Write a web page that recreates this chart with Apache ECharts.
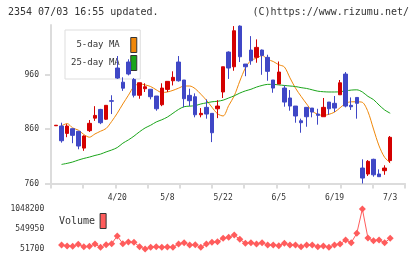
<!DOCTYPE html>
<html>
<head>
<meta charset="UTF-8">
<title>2354</title>
<script src="https://cdn.jsdelivr.net/npm/echarts@6/dist/echarts.min.js"></script>
<style>
	html, body { margin: 0; padding: 0; background: #fff; }
	#main { width: 420px; height: 259px; }
</style>
</head>
<body>
<div id="main"></div>
<script>
var dates = ['4/5','4/6','4/7','4/10','4/11','4/12','4/13','4/14','4/17','4/18','4/19','4/20','4/21','4/24','4/25','4/26','4/27','4/28',
	'5/1','5/2','5/8','5/9','5/10','5/11','5/12','5/15','5/16','5/17','5/18','5/19','5/22','5/23','5/24','5/25','5/26','5/29','5/30','5/31',
	'6/1','6/2','6/5','6/6','6/7','6/8','6/9','6/12','6/13','6/14','6/15','6/16','6/19','6/20','6/21','6/22','6/23','6/26','6/27','6/28','6/29','6/30',
	'7/3'];
var labelDates = ['4/20', '5/8', '5/22', '6/5', '6/19', '7/3'];

// [open, close, low, high]
var ohlc = [
	[866, 867, 866, 867], [865.5, 838.5, 835, 871.6], [852, 865.5, 845, 869], [860.6, 848.4, 834, 861],
	[855.8, 828.8, 822.8, 856], [825, 847.2, 820, 848.4], [857, 870.5, 854.5, 876.5], [880, 885, 875, 902],
	[896, 871.6, 869, 897], [878, 903.5, 877, 903.5], [912, 911, 887.5, 922], [972, 953.6, 952, 994],
	[946, 935, 930, 955], [983, 961, 958.5, 988], [951, 922, 918, 953.6], [922, 945, 915.6, 945],
	[934, 937.6, 928, 944], [933, 919.3, 914.5, 933], [920.6, 897.2, 893.6, 920.6], [904.6, 935.2, 902, 944],
	[932.8, 947.5, 928, 947.5], [948.6, 954.9, 940, 966], [983, 948.6, 947, 994], [950, 915.6, 900, 950],
	[921.8, 912, 902, 934], [919.3, 886.2, 881.5, 925.5], [886.2, 888.8, 881.5, 898.5], [899.8, 887.5, 879, 914.5],
	[888.8, 853.2, 836, 888.8], [897.2, 902.2, 880, 913], [928, 974.3, 917, 974.3], [1001.3, 972, 952, 1002.6],
	[974.3, 1040.4, 967, 1049], [1049, 992.7, 983, 1050.3], [979.3, 974.3, 957, 979.3], [1005, 985.3, 978, 1030.6],
	[991.6, 1009.9, 981.7, 1024.6], [1005, 995.2, 959.6, 1006], [991.6, 965.9, 948.6, 996.4], [950, 935.2, 926.6, 950],
	[942.6, 964.6, 942.6, 984], [935.2, 909.5, 901, 940], [917, 902.2, 893.6, 931.6], [902.2, 883.9, 871.6, 902.2],
	[875.2, 871.6, 853.2, 879], [899.8, 882.6, 864.2, 899.8], [898.5, 891.2, 881.5, 898.5], [887.5, 885.1, 868, 897.2],
	[882.6, 899.8, 882.6, 917], [909.5, 897.2, 886.2, 909.5], [907.2, 898.5, 891.2, 920.6], [922.9, 944.9, 922.9, 950],
	[960.9, 902.2, 899.8, 964.6], [903.5, 900.9, 895, 918], [918, 907.2, 879, 918], [788.4, 770, 760, 804.4],
	[777.4, 800.7, 773.8, 803], [804.4, 776, 772.5, 805.5], [777.4, 772.5, 772.5, 786], [783.5, 788.4, 776, 793.4],
	[802, 844.8, 798, 847.2]
];

var ma5 = ['-', 866, 870, 862, 858, 850, 845, 851, 856, 861, 874, 889, 906, 922, 938, 943, 941, 938, 932, 927,
	928, 931, 935, 939, 939, 934, 924, 913, 900, 888, 884, 903, 921, 948, 972, 986, 990, 995, 988, 984,
	978, 974, 954, 935, 920, 906, 893, 887, 885, 887, 891, 899, 907, 910, 910, 909, 892, 860, 829, 808, 798];

var ma25 = ['-', 795, 797, 799.5, 803, 806, 808.5, 811.5, 814, 818, 821.5, 826, 834, 840, 847, 855, 862, 867, 873, 877,
	882, 889, 896, 901, 902, 903, 906, 908, 910, 911, 913, 917, 921, 926, 930, 933, 937, 940, 942, 942,
	941, 940, 939, 938, 936, 934.5, 932, 929.5, 928.5, 928, 928, 928.5, 930, 931.5, 932, 928, 920, 914, 904, 895, 889];

var volume = ['-', 151000, 126000, 118000, 168000, 110000, 118000, 176000, 93000, 160000, 185000, 376000, 185000, 226000, 218000,
	110000, 51700, 93000, 110000, 93000, 100000, 93000, 176000, 209000, 151000, 160000, 93000, 176000, 218000, 234000,
	318000, 342000, 400000, 292000, 193000, 209000, 176000, 209000, 151000, 151000, 135000, 193000, 151000, 151000, 110000,
	151000, 151000, 110000, 126000, 93000, 151000, 176000, 276000, 209000, 442000, 1048200, 326000, 259000, 276000, 209000, 317000];

var priceTicks = [760, 860, 960];
var volumeTicks = [51700, 549950, 1048200];

var mono = 'DejaVu Sans Mono';
var axisGray = '#dcdcdc';

var myChart = echarts.init(document.getElementById('main'));
var option = {
	animation: false,
	backgroundColor: '#fff',
	title: [{
		text: '2354 07/03 16:55 updated.',
		left: 8, top: 7, padding: 0,
		textStyle: { fontFamily: mono, fontSize: 10, fontWeight: 'normal', color: '#333' }
	}, {
		text: '(C)https://www.rizumu.net/',
		right: 11, top: 7, padding: 0,
		textStyle: { fontFamily: mono, fontSize: 10, fontWeight: 'normal', color: '#333' }
	}],
	legend: [{
		data: ['5-day MA', '25-day MA'],
		left: 65, top: 30,
		orient: 'vertical', align: 'right',
		icon: 'rect', itemWidth: 6, itemHeight: 15, itemGap: 2,
		padding: [7, 3, 8, 6],
		backgroundColor: '#fff', borderColor: '#ddd', borderWidth: 1,
		itemStyle: { borderColor: '#333', borderWidth: 1 },
		textStyle: { fontFamily: mono, fontSize: 9, color: '#333', padding: [0, 6, 0, 0] },
		selectedMode: false,
		z: 1
	}, {
		data: ['Volume'],
		left: 59, top: 213,
		orient: 'vertical', align: 'right',
		icon: 'rect', itemWidth: 6, itemHeight: 15,
		padding: 0,
		itemStyle: { borderColor: '#333', borderWidth: 1 },
		textStyle: { fontFamily: mono, fontSize: 10, color: '#333' },
		selectedMode: false
	}],
	grid: [
		{ left: 53.2, right: 27, top: 25, bottom: 75.5 },
		{ left: 51, right: 15, top: 25, bottom: 75.5 },
		{ left: 53.2, right: 27, top: 209, bottom: 10 }
	],
	xAxis: [{
		gridIndex: 0, type: 'category', data: dates, boundaryGap: true,
		axisLine: { show: false }, axisTick: { show: false },
		axisLabel: {
			interval: function (i, v) { return labelDates.indexOf(v) >= 0; },
			fontFamily: mono, fontSize: 8, color: '#333', margin: 10
		},
		splitLine: { show: false }
	}, {
		gridIndex: 1, type: 'value', min: 0, max: 11, interval: 1,
		axisLine: { lineStyle: { color: axisGray, width: 2 } },
		axisTick: { length: 5, lineStyle: { color: axisGray, width: 2 } },
		axisLabel: { show: false },
		splitLine: { show: false }
	}, {
		gridIndex: 2, type: 'category', data: dates, boundaryGap: true, show: false
	}],
	yAxis: [{
		gridIndex: 0, type: 'value', min: 760, max: 1051, show: false, splitLine: { show: false }
	}, {
		gridIndex: 1, type: 'value', min: 760, max: 1051,
		axisLine: { show: true, lineStyle: { color: axisGray, width: 2 } },
		axisTick: { show: true, customValues: priceTicks, length: 6, lineStyle: { color: axisGray, width: 2 } },
		axisLabel: { customValues: priceTicks, fontFamily: mono, fontSize: 8, color: '#333', margin: 12 },
		splitLine: { show: false }
	}, {
		gridIndex: 2, type: 'value', min: 51700, max: 1048200,
		axisLine: { show: false }, axisTick: { show: false },
		axisLabel: {
			customValues: volumeTicks, fontFamily: mono, fontSize: 8, color: '#333', margin: 9,
			formatter: function (v) { return String(v); }
		},
		splitLine: { show: false }
	}],
	series: [{
		name: 'price',
		type: 'candlestick',
		xAxisIndex: 0, yAxisIndex: 0,
		barWidth: 4,
		z: 3,
		itemStyle: {
			color: '#d40000', color0: '#3f47c6',
			borderColor: '#d40000', borderColor0: '#3f47c6', borderWidth: 1
		},
		data: ohlc
	}, {
		name: '5-day MA',
		type: 'line',
		xAxisIndex: 0, yAxisIndex: 0,
		symbol: 'none', smooth: 0.3,
		color: '#f0880a',
		lineStyle: { width: 1, color: '#f0880a' },
		z: 2,
		data: ma5
	}, {
		name: '25-day MA',
		type: 'line',
		xAxisIndex: 0, yAxisIndex: 0,
		symbol: 'none', smooth: 0.3,
		color: '#1aa51a',
		lineStyle: { width: 1, color: '#1aa51a' },
		z: 2,
		data: ma25
	}, {
		name: 'Volume',
		type: 'line',
		xAxisIndex: 2, yAxisIndex: 2,
		symbol: 'diamond', symbolSize: 7, showAllSymbol: true,
		color: '#ff5c5c',
		lineStyle: { width: 1, color: '#ff5c5c' },
		itemStyle: { color: '#ff5c5c' },
		data: volume
	}]
};
myChart.setOption(option);
</script>
</body>
</html>
